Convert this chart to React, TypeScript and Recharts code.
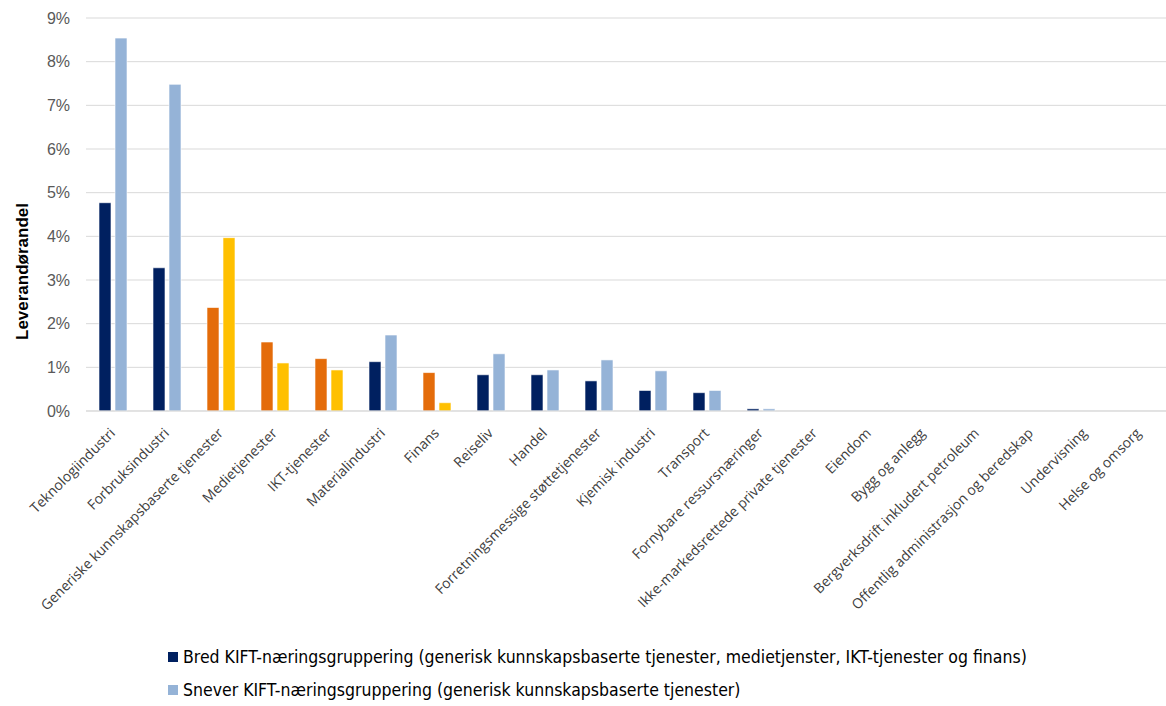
import React from "react";
import { BarChart, Bar, XAxis, YAxis, CartesianGrid, Legend, Cell } from "recharts";

// Næringer i samme rekkefølge som i figuren
const naeringer = [
    "Teknologiindustri",
    "Forbruksindustri",
    "Generiske kunnskapsbaserte tjenester",
    "Medietjenester",
    "IKT-tjenester",
    "Materialindustri",
    "Finans",
    "Reiseliv",
    "Handel",
    "Forretningsmessige støttetjenester",
    "Kjemisk industri",
    "Transport",
    "Fornybare ressursnæringer",
    "Ikke-markedsrettede private tjenester",
    "Eiendom",
    "Bygg og anlegg",
    "Bergverksdrift inkludert petroleum",
    "Offentlig administrasjon og beredskap",
    "Undervisning",
    "Helse og omsorg",
];

// Leverandørandel i prosent
const bredAndel = [4.77, 3.28, 2.37, 1.58, 1.2, 1.13, 0.88, 0.83, 0.83, 0.69, 0.47, 0.42, 0.05, 0, 0, 0, 0, 0, 0, 0];
const sneverAndel = [8.54, 7.48, 3.97, 1.1, 0.94, 1.74, 0.19, 1.31, 0.94, 1.17, 0.92, 0.47, 0.05, 0, 0, 0, 0, 0, 0, 0];

// KIFT-næringene selv får egne farger
const kiftNaeringer = ["Generiske kunnskapsbaserte tjenester", "Medietjenester", "IKT-tjenester", "Finans"];

const yTicks = [0, 1, 2, 3, 4, 5, 6, 7, 8, 9];

const legendLabels = [
    "Bred KIFT-næringsgruppering (generisk kunnskapsbaserte tjenester, medietjenster, IKT-tjenester og finans)",
    "Snever KIFT-næringsgruppering (generisk kunnskapsbaserte tjenester)",
];

const NAVY = "#002060";
const LIGHT_BLUE = "#95B3D7";
const ORANGE = "#E46C0A";
const YELLOW = "#FFC000";

const data = naeringer.map((name, i) => ({ name, bred: bredAndel[i], snever: sneverAndel[i] }));

const AngledTick = ({ x, y, payload }: any) => (
    <g transform={`translate(${x + 3},${y + 15})`}>
        <text
            textAnchor="end"
            transform="rotate(-45)"
            fontSize={14}
            fontFamily="'Open Sans', sans-serif"
            fill="#404040"
        >
            {payload.value}
        </text>
    </g>
);

const AxisTitle = ({ viewBox }: any) => {
    const cx = 22;
    const cy = viewBox.y + viewBox.height / 2 + 57;
    return (
        <text
            x={cx}
            y={cy}
            transform={`rotate(-90, ${cx}, ${cy})`}
            textAnchor="middle"
            dominantBaseline="central"
            fontSize={17}
            fontWeight="bold"
            fontFamily="'Liberation Sans', sans-serif"
            fill="#000"
        >
            Leverandørandel
        </text>
    );
};

const LegendBox = () => (
    <div style={{ height: 66, paddingLeft: 168, fontFamily: "'Liberation Sans Narrow', 'DejaVu Sans Condensed', sans-serif", fontSize: 17.5, color: "#000" }}>
        {legendLabels.map((label, i) => (
            <div key={label} style={{ height: 33, display: "flex", alignItems: "center" }}>
                <span style={{ width: 10, height: 10, background: i === 0 ? NAVY : LIGHT_BLUE, marginRight: 5, display: "inline-block" }} />
                {label}
            </div>
        ))}
    </div>
);

export default function App() {
    return (
        <div style={{ position: "absolute", left: 0, top: 0, background: "#fff" }}>
            <BarChart
                width={1166}
                height={706}
                data={data}
                margin={{ top: 18, right: 0, left: 0, bottom: 0 }}
                barSize={12}
                barGap={4}
            >
                <CartesianGrid vertical={false} stroke="#D9D9D9" />
                <XAxis
                    dataKey="name"
                    interval={0}
                    height={229}
                    tick={<AngledTick />}
                    tickLine={false}
                    axisLine={{ stroke: "#D9D9D9" }}
                />
                <YAxis
                    width={86}
                    domain={[0, 9]}
                    ticks={yTicks}
                    tickFormatter={(v) => `${v}%`}
                    axisLine={false}
                    tickLine={false}
                    tickMargin={10}
                    tick={{ fill: "#595959", fontSize: 16, fontFamily: "'Liberation Sans', sans-serif" }}
                    label={<AxisTitle />}
                />
                <Legend verticalAlign="bottom" align="left" content={<LegendBox />} />
                <Bar dataKey="bred" isAnimationActive={false} stroke="#ffffff" strokeOpacity={0.6} strokeWidth={1}>
                    {data.map((d) => (
                        <Cell key={`bred-${d.name}`} fill={kiftNaeringer.includes(d.name) ? ORANGE : NAVY} />
                    ))}
                </Bar>
                <Bar dataKey="snever" isAnimationActive={false} stroke="#ffffff" strokeOpacity={0.6} strokeWidth={1}>
                    {data.map((d) => (
                        <Cell key={`snever-${d.name}`} fill={kiftNaeringer.includes(d.name) ? YELLOW : LIGHT_BLUE} />
                    ))}
                </Bar>
            </BarChart>
        </div>
    );
}
